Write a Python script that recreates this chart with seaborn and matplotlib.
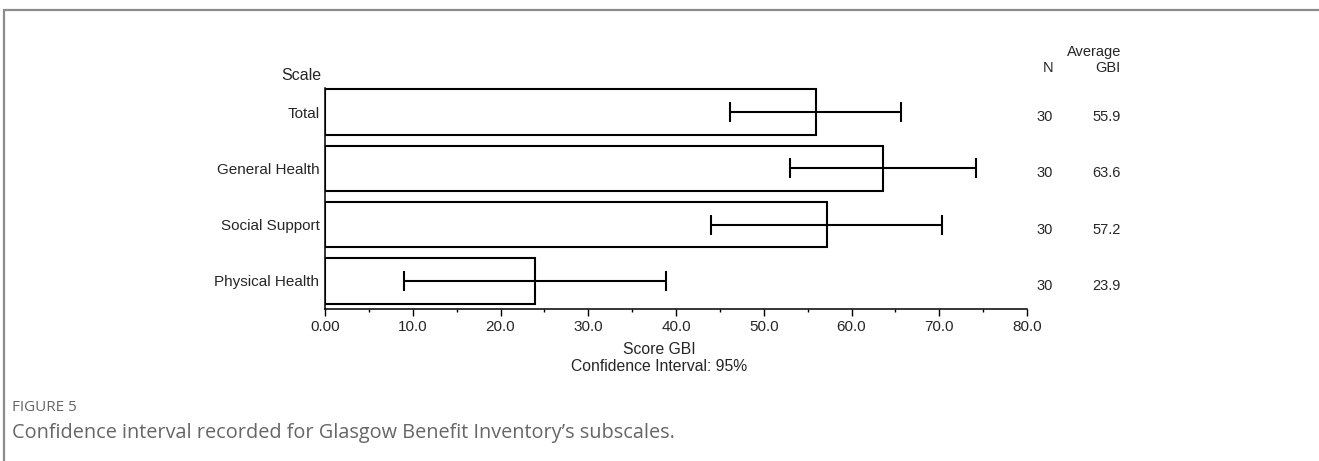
import numpy as np
import pandas as pd
import matplotlib
matplotlib.use("Agg")
import matplotlib.pyplot as plt
import matplotlib.transforms as mtransforms
from matplotlib.lines import Line2D
import seaborn as sns

# data
scales = ["Total", "General Health", "Social Support", "Physical Health"]
mean_gbi = [55.9, 63.6, 57.2, 23.9]
ci_low = [46.2, 53.0, 44.0, 9.0]
ci_high = [65.6, 74.2, 70.3, 38.9]
n_values = [30, 30, 30, 30]
x_ticks = [0, 10, 20, 30, 40, 50, 60, 70, 80]
x_tick_labels = ["0.00", "10.0", "20.0", "30.0", "40.0", "50.0", "60.0", "70.0", "80.0"]

data = pd.DataFrame({"Scale": scales, "Mean": mean_gbi})

sns.set_style("white")
plt.rcParams["font.family"] = ["Liberation Sans", "DejaVu Sans"]

fig = plt.figure(figsize=(13.19, 4.61), dpi=100)
ax = fig.add_axes([325 / 1319, 1 - 309 / 461, 702 / 1319, 225 / 461])

sns.barplot(data=data, x="Mean", y="Scale", order=scales, orient="h",
            fill=False, color="black", width=0.81, linewidth=1.5,
            errorbar=None, ax=ax)

# confidence intervals
means = np.array(mean_gbi)
xerr = np.vstack([means - np.array(ci_low), np.array(ci_high) - means])
ax.errorbar(means, np.arange(len(scales)), xerr=xerr, fmt="none",
            ecolor="black", elinewidth=1.5, capsize=7.5, capthick=1.5)

ax.set_xlim(0, 80)
ax.set_ylim(3.5, -0.5)
ax.set_xticks(x_ticks)
ax.set_xticklabels(x_tick_labels)
ax.set_xticks(np.arange(5, 80, 10), minor=True)
ax.tick_params(axis="x", which="major", length=5, width=1, color="black",
               direction="out", bottom=True, labelsize=11, pad=3)
ax.tick_params(axis="x", which="minor", length=2.5, width=1, color="black",
               direction="out", bottom=True)
ax.tick_params(axis="y", length=0, labelsize=11, pad=4)
ax.set_xlabel("")
ax.set_ylabel("")

for side in ["top", "right"]:
    ax.spines[side].set_visible(False)
for side in ["left", "bottom"]:
    ax.spines[side].set_color("black")
    ax.spines[side].set_linewidth(1.1)
ax.spines["left"].set_bounds(3.5, -0.42)

# side columns
trans = mtransforms.blended_transform_factory(ax.transAxes, ax.transData)
for i, (n, m) in enumerate(zip(n_values, mean_gbi)):
    ax.text(1.037, i + 0.09, str(n), transform=trans, ha="right", va="center", fontsize=10.5)
    ax.text(1.134, i + 0.09, f"{m:.1f}", transform=trans, ha="right", va="center", fontsize=10.5)

fig.text(1053 / 1319, 1 - 68 / 461, "N", ha="right", va="center", fontsize=10.5)
fig.text(1121 / 1319, 1 - 60 / 461, "Average\nGBI", ha="right", va="center",
         fontsize=10.5, linespacing=1.15, multialignment="right")
fig.text(321 / 1319, 1 - 76 / 461, "Scale", ha="right", va="center", fontsize=11.5)

fig.text(659 / 1319, 1 - 349 / 461, "Score GBI", ha="center", va="center", fontsize=11.3)
fig.text(659 / 1319, 1 - 366 / 461, "Confidence Interval: 95%", ha="center", va="center", fontsize=11.3)

# caption
fig.text(12 / 1319, 1 - 407 / 461, "FIGURE 5", ha="left", va="center", fontsize=11,
         color="#666666", family=["Open Sans", "DejaVu Sans"])
fig.text(12 / 1319, 1 - 433 / 461,
         "Confidence interval recorded for Glasgow Benefit Inventory\u2019s subscales.",
         ha="left", va="center", fontsize=14.3, color="#666666",
         family=["Open Sans", "DejaVu Sans"])

# frame lines
fig.add_artist(Line2D([4 / 1319, 1], [1 - 10 / 461, 1 - 10 / 461], transform=fig.transFigure,
                      color="#8c8c8c", linewidth=1.6))
fig.add_artist(Line2D([4 / 1319, 4 / 1319], [0, 1 - 10 / 461], transform=fig.transFigure,
                      color="#8c8c8c", linewidth=1.6))

fig.savefig("out.png", dpi=100)
